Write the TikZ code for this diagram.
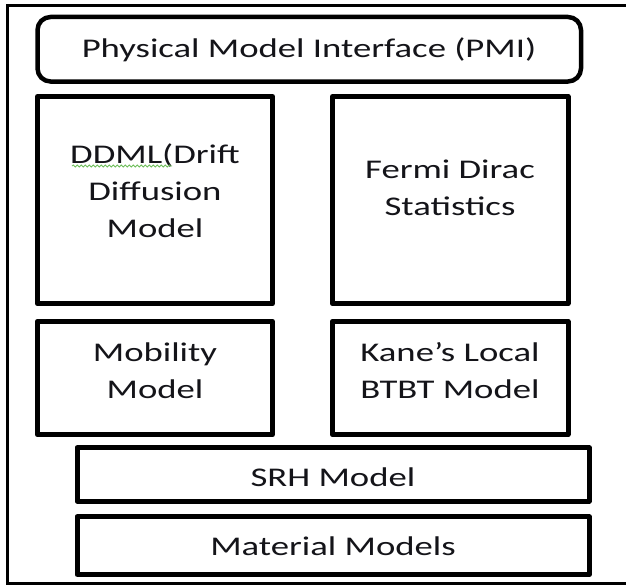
\documentclass[tikz,border=0pt]{standalone}
\usepackage{fontspec}
\setmainfont{Carlito}[FakeStretch=1.36]
\usetikzlibrary{decorations.pathmorphing}
\definecolor{spellgreen}{RGB}{110,190,90}
\definecolor{txt}{RGB}{20,20,25}
\begin{document}
\begin{tikzpicture}[x=1pt,y=-1pt,
  box/.style={draw=black,line width=5pt,line join=round,rectangle,inner sep=0pt},
  lbl/.style={font=\fontsize{27}{37}\selectfont,text=txt,align=center,anchor=base,inner sep=0pt}]
\useasboundingbox (0,0) rectangle (626,586);
\clip (0,0) rectangle (626,586);
\fill[white] (0,0) rectangle (626,586);
% outer frame (right side cut off by the picture edge)
\coordinate (ftr) at (640,6);
\coordinate (ftl) at (7.5,6);
\coordinate (fbl) at (7.5,583);
\coordinate (fbr) at (640,583);
\draw[line width=3pt,line join=miter] (ftr) -- (ftl) -- (fbl) -- (fbr);
% boxes
\node[box,rounded corners=13pt,line width=4.5pt,minimum width=543.5pt,minimum height=64.5pt] (pmi) at (309.25,49.25) {};
\node[box,minimum width=235pt,minimum height=207.2pt] (ddml) at (155,200.1) {};
\node[box,minimum width=235.5pt,minimum height=207.2pt] (fermi) at (450.25,200.1) {};
\node[box,minimum width=235pt,minimum height=113.4pt] (mob) at (155,378) {};
\node[box,minimum width=235.5pt,minimum height=113.4pt] (kane) at (450.25,378) {};
\node[box,minimum width=512.3pt,minimum height=53.2pt] (srh) at (333.15,474.4) {};
\node[box,minimum width=512.3pt,minimum height=57.5pt] (mat) at (333.15,545.55) {};
% labels (anchor=base is the baseline of the last line)
\node[lbl] (pmit) at (309,58) {Physical Model Interface (PMI)};
\node[lbl] (ddmlt) at (155,237) {DDML(Drift\\Diffusion\\Model};
\node[lbl] (fermit) at (450,215) {Fermi Dirac\\Statistics};
\node[lbl] (mobt) at (155,398) {Mobility\\Model};
\node[lbl] (kanet) at (450,398) {Kane’s Local\\BTBT Model};
\node[lbl] (srht) at (333,486) {SRH Model};
\node[lbl] (matt) at (333,555) {Material Models};
% spell-check underline
\coordinate (sq1) at (72,166);
\coordinate (sq2) at (172,166);
\draw[spellgreen,line width=0.8pt,decorate,decoration={snake,amplitude=1pt,segment length=4pt}] (sq1) -- (sq2);
\end{tikzpicture}
\end{document}
